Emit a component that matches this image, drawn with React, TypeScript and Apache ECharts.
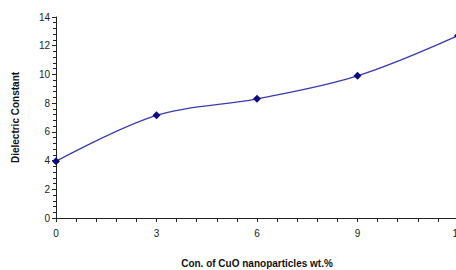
import React, { useEffect, useRef } from "react";
import * as echarts from "echarts";

const concentrations = [0, 3, 6, 9, 12];
const dielectric = [3.95, 7.15, 8.3, 9.9, 12.7];
const xTitle = "Con. of CuO nanoparticles wt.%";
const yTitle = "Dielectric Constant";

export default function App() {
  const ref = useRef<HTMLDivElement>(null);
  useEffect(() => {
    if (!ref.current) return;
    const chart = echarts.init(ref.current, undefined, { renderer: "svg" });
    const font = "Liberation Sans, Arial, sans-serif";
    chart.setOption({
      animation: false,
      textStyle: { fontFamily: font },
      grid: { left: 56, right: 12, top: 17, bottom: 52, outerBoundsMode: "none", containLabel: false },
      xAxis: {
        type: "value",
        min: 0,
        max: 12,
        interval: 3,
        name: xTitle,
        nameLocation: "middle",
        nameGap: 40,
        nameTextStyle: { fontSize: 10, fontWeight: "bold", color: "#111", fontFamily: font },
        axisLine: { lineStyle: { color: "#222", width: 1 } },
        axisTick: { show: true, length: 4, lineStyle: { color: "#222" } },
        minorTick: { show: true, splitNumber: 5, length: 4, lineStyle: { color: "#222" } },
        axisLabel: { fontSize: 10, color: "#222", margin: 10, fontFamily: font },
        splitLine: { show: false },
      },
      yAxis: {
        type: "value",
        min: 0,
        max: 14,
        interval: 2,
        name: yTitle,
        nameLocation: "middle",
        nameGap: 36,
        nameRotate: 90,
        nameTextStyle: { fontSize: 10, fontWeight: "bold", color: "#111", fontFamily: font },
        axisLine: { show: true, lineStyle: { color: "#222", width: 1 } },
        axisTick: { show: true, length: 4, lineStyle: { color: "#222" } },
        minorTick: { show: true, splitNumber: 5, length: 3, lineStyle: { color: "#222" } },
        axisLabel: { fontSize: 10, color: "#222", margin: 6, fontFamily: font },
        splitLine: { show: false },
      },
      series: [
        {
          type: "line",
          data: concentrations.map((x, i) => [x, dielectric[i]]),
          smooth: 0.35,
          symbol: "diamond",
          symbolSize: 8,
          lineStyle: { color: "#3b3bb0", width: 1.3 },
          itemStyle: { color: "#0b0b80" },
        },
      ],
    });
    return () => chart.dispose();
  }, []);
  return (
    <div style={{ position: "fixed", left: 0, top: 0, width: 456, height: 270, overflow: "hidden", background: "#fff" }}>
      <div ref={ref} style={{ width: 470, height: 270 }} />
    </div>
  );
}
